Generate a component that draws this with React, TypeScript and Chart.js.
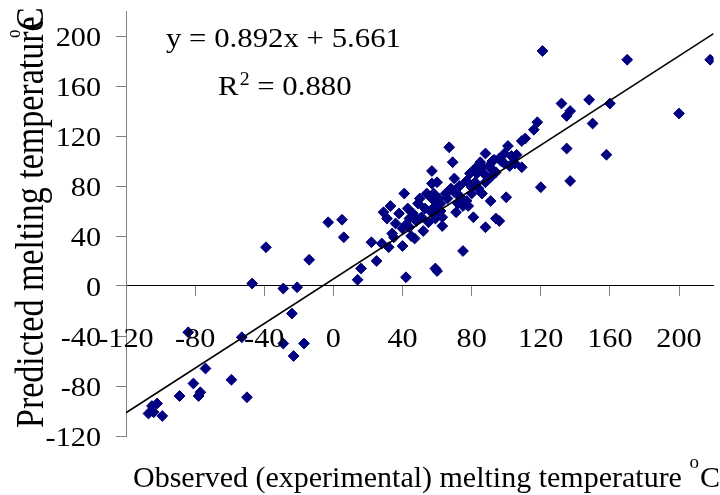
import React, { useEffect, useRef } from "react";
import { Chart, registerables } from "chart.js";

Chart.register(...registerables);

// Observed (experimental) melting temperature, °C
const observedTemps = [
  -107, -104, -105, -102, -99, -89, -84, -81, -78, -77, -74, -59, -53, -50, -47, -39, -29, -29, -24, -23,
  -21, -17, -14, -3, 5, 6, 14, 16, 22, 25, 42, 59, 60, 75,
  28, 29, 31, 32, 33, 35, 40, 40, 41, 43, 44, 47, 49, 51, 52, 55, 57, 57,
  67, 69, 57, 88, 92, 85, 82, 79, 77, 73, 68, 65, 61, 58, 59, 56, 63, 59, 71, 75, 77, 80, 84, 88, 91, 94,
  91, 81, 94, 78, 73, 60, 96, 86, 88, 100, 96, 63, 70, 82,
  97, 103, 106, 102, 109, 105, 101, 99, 109, 111, 116, 118, 121, 132, 137, 135, 148, 150, 160, 135, 158,
  120, 137, 170, 200, 218,
  38, 42, 48, 45, 36, 53, 46, 62, 66, 70, 72, 83, 86, 90, 99, 93, 54, 50,
  34, 44, 47, 58, 62, 74, 80, 87, 92,
];

// Predicted melting temperature, °C
const predictedTemps = [
  -102, -101, -96, -94, -104, -88, -37, -78, -88, -85, -66, -75, -41, -89, 2, 31, -2, -46, -22, -56,
  -1, -46, 21, 51, 53, 39, 5, 14, 35, 20, 7, 14, 12, 28,
  34, 59, 54, 31, 64, 39, 46, 32, 74, 62, 54, 38, 66, 55, 44, 51, 70, 82,
  111, 99, 92, 106, 100, 99, 94, 90, 84, 80, 78, 74, 70, 74, 64, 60, 55, 54, 59, 64, 68, 74, 78, 83, 87, 91,
  68, 55, 54, 64, 72, 83, 102, 74, 47, 71, 52, 48, 86, 83,
  100, 104, 105, 96, 95, 98, 112, 106, 116, 118, 125, 131, 188, 146, 140, 136, 149, 130, 146, 110, 105,
  79, 84, 181, 138, 181,
  58, 49, 52, 40, 50, 62, 58, 66, 70, 75, 66, 90, 95, 96, 98, 101, 74, 70,
  42, 47, 55, 58, 60, 70, 79, 90, 93,
];

const xTickValues = [-120, -80, -40, 0, 40, 80, 120, 160, 200];
const yTickValues = [-120, -80, -40, 0, 40, 80, 120, 160, 200];
const xRange = [-120, 220];
const yRange = [-120, 220];

const trendSlope = 0.892;
const trendIntercept = 5.661;
const rSquared = 0.88;

const xTitle = "Observed (experimental) melting temperature";
const yTitle = "Predicted melting temperature";

const SERIF = "'Liberation Serif', 'Times New Roman', Times, serif";
const NAVY = "#000080";

const textPlugin = {
  id: "textPlugin",
  afterDraw(chart: any) {
    const ctx: CanvasRenderingContext2D = chart.ctx;
    const xs = chart.scales.x;
    const ys = chart.scales.y;
    ctx.save();
    ctx.fillStyle = "#000";
    ctx.textBaseline = "alphabetic";

    // x tick labels (below the zero line)
    const y0 = ys.getPixelForValue(0);
    ctx.font = `27px ${SERIF}`;
    ctx.textAlign = "center";
    xTickValues.forEach((v) => {
      ctx.save();
      ctx.translate(xs.getPixelForValue(v), y0 + 60.5);
      ctx.scale(1.12, 1);
      ctx.fillText(String(v), 0, 0);
      ctx.restore();
    });

    // y tick labels
    ctx.textAlign = "right";
    yTickValues.forEach((v) => {
      ctx.save();
      ctx.translate(101, ys.getPixelForValue(v) + 9.5);
      ctx.scale(1.12, 1);
      ctx.fillText(String(v), 0, 0);
      ctx.restore();
    });

    // regression equation
    ctx.textAlign = "left";
    ctx.save();
    ctx.translate(166, 47);
    ctx.scale(1.1, 1);
    ctx.font = `28px ${SERIF}`;
    ctx.fillText(`y = ${trendSlope.toFixed(3)}x + ${trendIntercept.toFixed(3)}`, 0, 0);
    ctx.restore();

    ctx.save();
    ctx.translate(218, 95);
    ctx.scale(1.1, 1);
    ctx.font = `28px ${SERIF}`;
    ctx.fillText("R", 0, 0);
    const wR = ctx.measureText("R").width;
    ctx.font = `18px ${SERIF}`;
    ctx.fillText("2", wR + 1, -10);
    const w2 = ctx.measureText("2").width;
    ctx.font = `28px ${SERIF}`;
    ctx.fillText(` = ${rSquared.toFixed(3)}`, wR + 1 + w2, 0);
    ctx.restore();

    // x axis title
    ctx.font = `30px ${SERIF}`;
    const xt = xTitle + " ";
    ctx.fillText(xt, 133, 487);
    const wt = ctx.measureText(xt).width;
    ctx.font = `19px ${SERIF}`;
    ctx.fillText("o", 133 + wt, 468);
    const wo = ctx.measureText("o").width;
    ctx.font = `30px ${SERIF}`;
    ctx.fillText("C", 133 + wt + wo + 1, 487);

    // y axis title (rotated)
    ctx.save();
    ctx.translate(43, 428);
    ctx.rotate(-Math.PI / 2);
    ctx.scale(1, 1.2);
    ctx.font = `34px ${SERIF}`;
    ctx.fillText(yTitle, 0, 0);
    ctx.font = `17px ${SERIF}`;
    ctx.fillText("o", 390, -19);
    ctx.font = `34px ${SERIF}`;
    ctx.fillText("C", 398, 0);
    ctx.restore();

    ctx.restore();
  },
};

export default function App() {
  const canvasRef = useRef<HTMLCanvasElement | null>(null);

  useEffect(() => {
    if (!canvasRef.current) return;
    const points = observedTemps.map((x, i) => ({ x, y: predictedTemps[i] }));
    const trend = [xRange[0], xRange[1]].map((x) => ({ x, y: trendSlope * x + trendIntercept }));

    const chart = new Chart(canvasRef.current, {
      type: "scatter",
      data: {
        datasets: [
          {
            label: "Linear fit",
            data: trend,
            showLine: true,
            borderColor: "#000",
            borderWidth: 1.6,
            pointRadius: 0,
            fill: false,
          } as any,
          {
            label: "Melting temperature",
            data: points,
            pointStyle: "rectRot",
            pointRadius: 5.4,
            borderWidth: 1,
            backgroundColor: NAVY,
            borderColor: NAVY,
          },
        ],
      },
      options: {
        responsive: false,
        animation: false,
        devicePixelRatio: 1,
        layout: { padding: { top: 11, bottom: 59, left: 0, right: 0 } },
        plugins: {
          legend: { display: false },
          tooltip: { enabled: false },
        },
        scales: {
          x: {
            type: "linear",
            min: xRange[0],
            max: xRange[1],
            position: { y: 0 } as any,
            afterBuildTicks: (s: any) => {
              s.ticks = xTickValues.map((v) => ({ value: v }));
            },
            grid: { drawOnChartArea: false, drawTicks: true, tickLength: 10, color: "#808080", lineWidth: 1 },
            border: { display: true, color: "#000", width: 1 },
            ticks: { display: false },
          },
          y: {
            type: "linear",
            min: yRange[0],
            max: yRange[1],
            position: "left",
            afterBuildTicks: (s: any) => {
              s.ticks = yTickValues.map((v) => ({ value: v }));
            },
            afterFit: (s: any) => {
              s.width = 126;
            },
            grid: { drawOnChartArea: false, drawTicks: true, tickLength: 10, color: "#808080", lineWidth: 1 },
            border: { display: true, color: "#808080", width: 1 },
            ticks: { display: false },
          },
        },
      } as any,
      plugins: [textPlugin],
    });
    return () => chart.destroy();
  }, []);

  return (
    <div style={{ position: "fixed", left: 0, top: 0, width: 720, height: 495, background: "#fff" }}>
      <canvas ref={canvasRef} width={720} height={495} style={{ display: "block" }} />
    </div>
  );
}
